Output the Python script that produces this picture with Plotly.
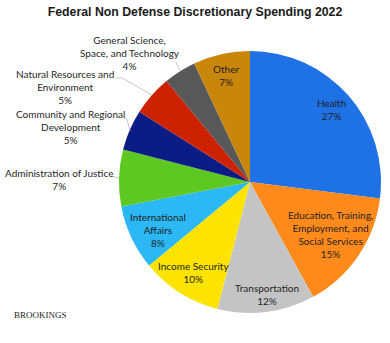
import plotly.graph_objects as go

# ---- data ----
categories = [
    "Health",
    "Education, Training, Employment, and Social Services",
    "Transportation",
    "Income Security",
    "International Affairs",
    "Administration of Justice",
    "Community and Regional Development",
    "Natural Resources and Environment",
    "General Science, Space, and Technology",
    "Other",
]
shares = [27, 15, 12, 10, 8, 7, 5, 5, 4, 7]
label_lines = [
    "Health",
    "Education, Training,<br>Employment, and<br>Social Services",
    "Transportation",
    "Income Security",
    "International<br>Affairs",
    "Administration of Justice",
    "Community and Regional<br>Development",
    "Natural Resources and<br>Environment",
    "General Science,<br>Space, and Technology",
    "Other",
]
colors = ["#1f71e6", "#ff8a1c", "#c4c4c4", "#fde300", "#2bb8f4",
          "#5ec822", "#0b1c84", "#cc2200", "#585858", "#c8860a"]

W, H = 390, 343
CX, CY, R = 250, 182, 131

def px(x):
    return x / W

def py(y):
    return 1 - y / H

fig = go.Figure(go.Pie(
    labels=categories,
    values=shares,
    sort=False,
    direction="clockwise",
    rotation=0,
    marker=dict(colors=colors, line=dict(width=0)),
    textinfo="none",
    hoverinfo="label+percent",
    showlegend=False,
    domain=dict(x=[px(CX - R), px(CX + R)], y=[py(CY + R), py(CY - R)]),
))

# label positions (pixel centers) and leader lines
label_pos = [(331, 110), (330, 234), (267, 294), (193, 272), (158, 230),
             (59, 180), (70, 127), (65, 87), (130, 53), (226, 75)]
leaders = {
    5: [(111, 176), (119, 178)],
    6: [(124, 118), (127, 119), (130, 131)],
    7: [(116, 78), (122, 78), (152, 95)],
    8: [(176, 62), (180, 71)],
}

annotations = []
for i, (txt, val) in enumerate(zip(label_lines, shares)):
    x, y = label_pos[i]
    annotations.append(dict(
        x=px(x), y=py(y), xref="paper", yref="paper",
        text=f"{txt}<br>{val}%", showarrow=False,
        xanchor="center", yanchor="middle", align="center",
        font=dict(family="Lato, 'Open Sans', sans-serif", size=10, color="#1f1f1f"),
    ))

annotations.append(dict(
    x=px(12), y=py(315), xref="paper", yref="paper",
    text="BROOKINGS", showarrow=False, xanchor="left", yanchor="middle",
    font=dict(family="Liberation Serif, serif", size=9, color="#222222"),
))

shapes = []
for pts in leaders.values():
    path = "M " + " L ".join(f"{px(a)},{py(b)}" for a, b in pts)
    shapes.append(dict(type="path", xref="paper", yref="paper", path=path,
                       line=dict(color="#c8c8c8", width=1)))

fig.update_layout(
    width=W, height=H, autosize=False,
    margin=dict(l=0, r=0, t=0, b=0),
    paper_bgcolor="white", plot_bgcolor="white",
    title=dict(text="<b>Federal Non Defense Discretionary Spending 2022</b>",
               x=px(195), xanchor="center", y=py(12), yanchor="middle",
               font=dict(family="Liberation Sans, Arial, sans-serif", size=12.3, color="#1a1a1a")),
    annotations=annotations,
    shapes=shapes,
)

fig.write_html("out.html")
